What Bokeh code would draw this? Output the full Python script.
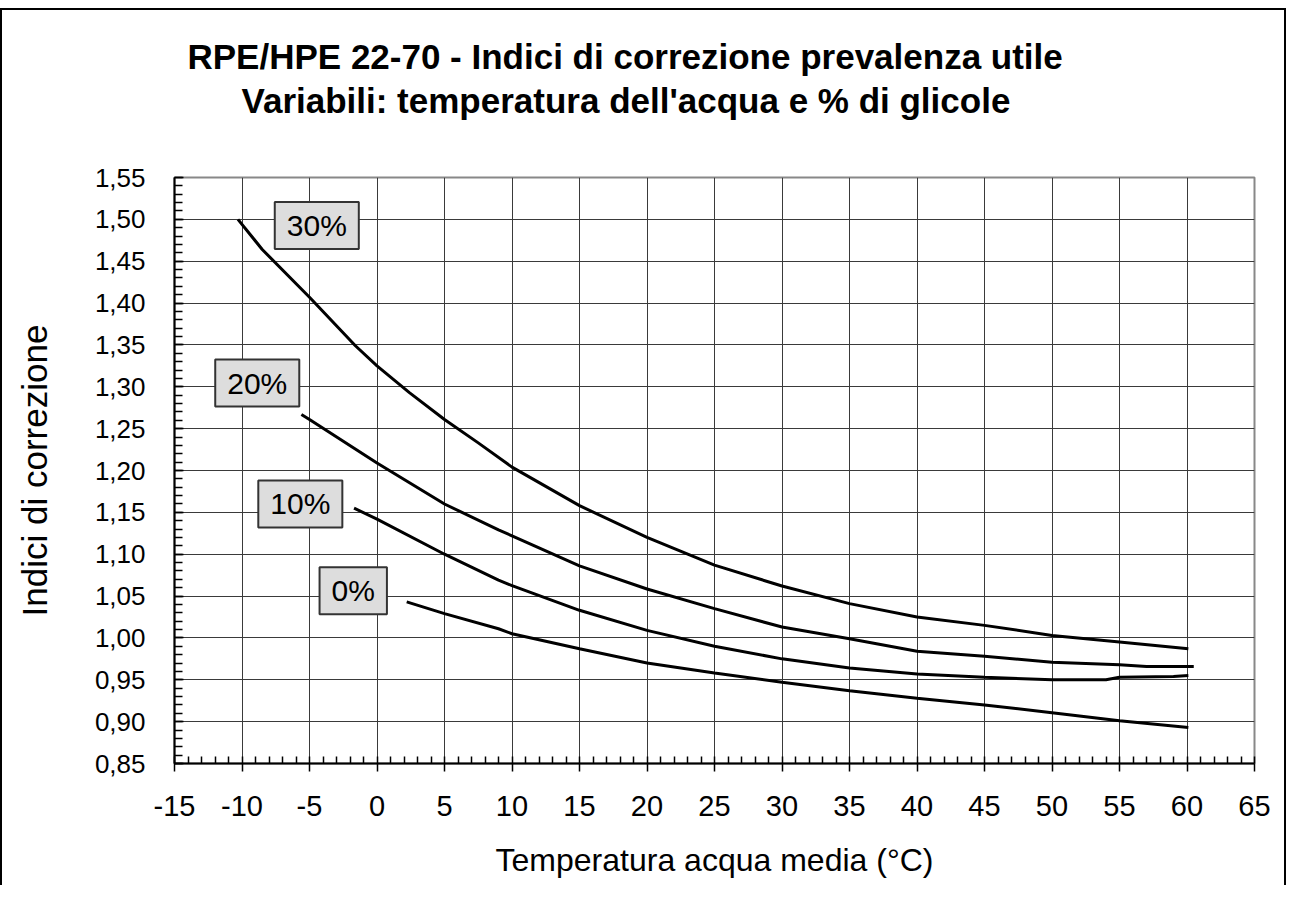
from bokeh.plotting import figure
from bokeh.models import Range1d, FixedTicker, CustomJSTickFormatter, Label, Title
from bokeh.embed import file_html
from bokeh.resources import INLINE

# ---- data ----
t30 = [-10.3, -8.5, -5, -1.6, 0, 2.4, 5, 7.5, 10, 15, 20, 25, 30, 35, 40, 45, 50, 55, 60.1]
v30 = [1.500, 1.464, 1.407, 1.349, 1.325, 1.293, 1.261, 1.233, 1.204, 1.158, 1.120, 1.087,
       1.062, 1.041, 1.025, 1.015, 1.003, 0.995, 0.987]

t20 = [-5.6, -5, 0, 5, 9, 10, 15, 20, 25, 30, 35, 40, 45, 50, 55, 57, 60.5]
v20 = [1.267, 1.261, 1.209, 1.160, 1.129, 1.122, 1.086, 1.0585, 1.035, 1.013, 0.999, 0.984,
       0.978, 0.971, 0.968, 0.966, 0.966]

t10 = [-1.7, 0, 5, 9, 10, 15, 20, 25, 30, 35, 40, 45, 50, 54, 55, 59, 60.1]
v10 = [1.155, 1.142, 1.100, 1.069, 1.0625, 1.033, 1.009, 0.990, 0.975, 0.964, 0.957, 0.953,
       0.950, 0.950, 0.953, 0.954, 0.955]

t0 = [2.2, 5, 9, 10, 15, 20, 25, 30, 35, 40, 45, 50, 55, 60.1]
v0 = [1.043, 1.029, 1.011, 1.005, 0.987, 0.970, 0.958, 0.947, 0.937, 0.928, 0.920, 0.9105,
      0.901, 0.893]

label_text = ["30%", "20%", "10%", "0%"]
label_x = [-4.46, -8.87, -5.68, -1.76]
label_y = [1.4926, 1.3045, 1.1601, 1.0564]

x_ticks = [-15, -10, -5, 0, 5, 10, 15, 20, 25, 30, 35, 40, 45, 50, 55, 60, 65]
y_ticks = [0.85, 0.90, 0.95, 1.00, 1.05, 1.10, 1.15, 1.20, 1.25, 1.30, 1.35, 1.40, 1.45, 1.50, 1.55]

title_line1 = "RPE/HPE 22-70 -  Indici di correzione prevalenza utile"
title_line2 = "Variabili: temperatura dell'acqua e % di glicole"
x_title = "Temperatura acqua media (°C)"
y_title = "Indici di correzione"

FONT = "Liberation Sans"

p = figure(width=1286, height=877, output_backend="svg", toolbar_location=None,
           x_range=Range1d(-15, 65), y_range=Range1d(0.85, 1.55),
           min_border_left=172, min_border_right=34, min_border_top=167, min_border_bottom=124)
p.styles = {"border-top": "2px solid black", "border-left": "2px solid black",
            "border-right": "2px solid black", "margin-top": "8px"}
p.background_fill_color = "white"
p.border_fill_color = "white"
p.outline_line_color = "#888888"
p.outline_line_width = 2

xax = p.below[0]
yax = p.left[0]

# two-line title (second line nearest the frame)
t2 = Title(text=title_line2, align="left", offset=67, standoff=115,
           text_font=FONT, text_font_size="35px", text_font_style="bold", text_color="black")
t1 = Title(text=title_line1, align="left", offset=13, standoff=-109,
           text_font=FONT, text_font_size="35px", text_font_style="bold", text_color="black")
p.add_layout(t2, "above")
p.add_layout(t1, "above")

# axes
minor_x = [v for v in range(-15, 66)]
minor_y = [round(0.85 + 0.01 * i, 2) for i in range(71)]
xax.ticker = FixedTicker(ticks=x_ticks, minor_ticks=minor_x)
yax.ticker = FixedTicker(ticks=y_ticks, minor_ticks=minor_y)
xax.formatter = CustomJSTickFormatter(code="return tick.toString();")
yax.formatter = CustomJSTickFormatter(code="return tick.toFixed(2).replace('.', ',');")

for ax in (xax, yax):
    ax.axis_line_color = "black"
    ax.axis_line_width = 2
    ax.major_tick_line_color = "black"
    ax.minor_tick_line_color = "black"
    ax.major_tick_line_width = 1.5
    ax.minor_tick_line_width = 1.5
    ax.major_label_text_font = FONT
    ax.major_label_text_color = "black"
    ax.axis_label_text_font = FONT
    ax.axis_label_text_font_style = "normal"
    ax.axis_label_text_color = "black"

xax.major_tick_out = 8
xax.major_tick_in = 0
xax.minor_tick_in = 7
xax.minor_tick_out = 0
xax.major_label_text_font_size = "29px"
xax.major_label_standoff = 24
xax.axis_label = x_title
xax.axis_label_text_font_size = "32px"
xax.axis_label_standoff = 23

yax.major_tick_out = 0
yax.major_tick_in = 9
yax.minor_tick_in = 8
yax.minor_tick_out = 0
yax.major_label_text_font_size = "26px"
yax.major_label_standoff = 29
yax.axis_label = y_title
yax.axis_label_text_font_size = "35px"
yax.axis_label_standoff = 38

p.xgrid.grid_line_color = "#3a3a3a"
p.ygrid.grid_line_color = "#3a3a3a"
p.xgrid.grid_line_width = 1
p.ygrid.grid_line_width = 1

# curves
for xs, ys in ((t30, v30), (t20, v20), (t10, v10), (t0, v0)):
    p.line(xs, ys, line_color="black", line_width=3)

# boxed labels
for txt, lx, ly in zip(label_text, label_x, label_y):
    p.add_layout(Label(x=lx, y=ly, text=txt, text_align="center", text_baseline="middle",
                       text_font=FONT, text_font_size="30px", text_color="black",
                       background_fill_color="#dddddd", border_line_color="#333333",
                       border_line_width=2, padding=(12, 7)))

open("out.html", "w").write(file_html(p, INLINE))
